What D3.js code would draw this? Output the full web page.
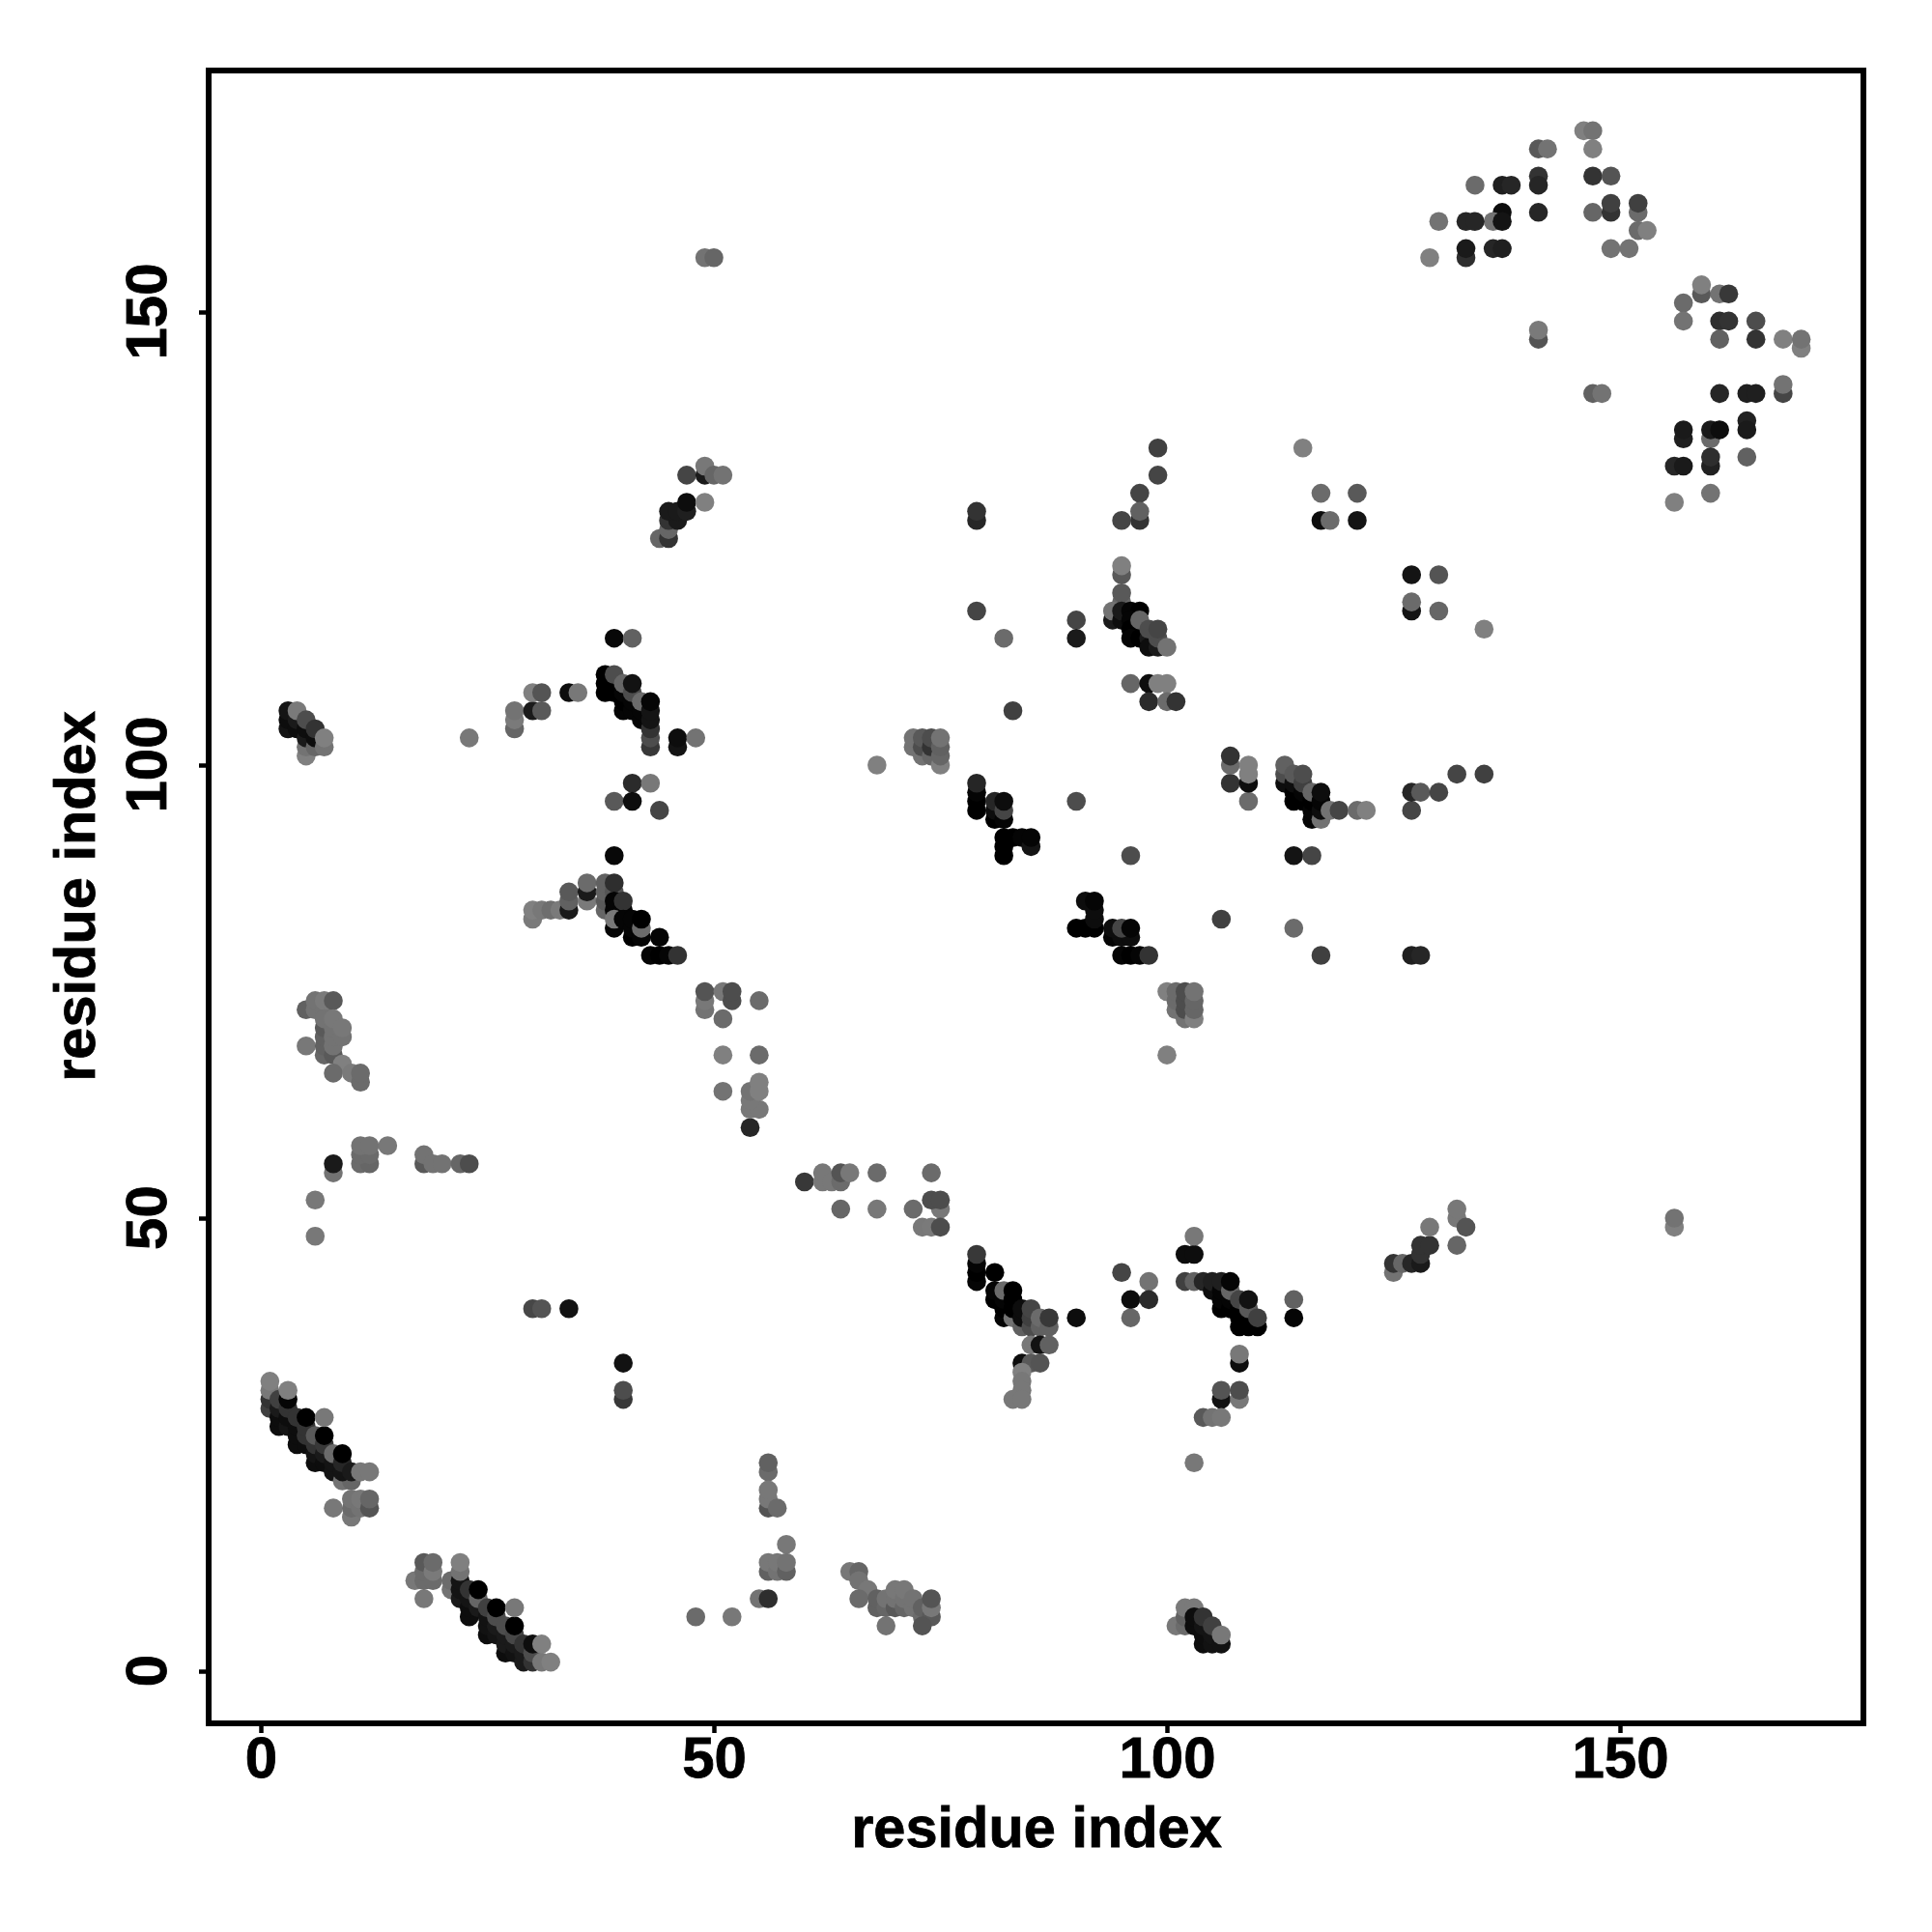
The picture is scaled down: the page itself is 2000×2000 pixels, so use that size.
<!DOCTYPE html>
<html><head><meta charset="utf-8">
<script src="https://d3js.org/d3.v7.min.js"></script>
<style>html,body{margin:0;padding:0;background:#fff}svg{display:block}</style>
</head><body><svg id="c" width="2000" height="2000"></svg>
<script>
// each entry: residue x, residue y, gray level
const topRight=[[146,170,.5],[147,170,.45],[147,168,.5],[141,168,.35],[142,168,.45],[141,165,.2],[141,164,.15],[147,165,.2],[149,165,.33],[134,164,.42],[137,164,.12],[138,164,.15],[141,161,.15],[137,161,.05],[136,160,.45],[137,160,.08],[130,160,.45],[133,160,.15],[134,160,.15],[147,161,.4],[149,161,.2],[149,162,.25],[152,161,.42],[152,162,.25],[152,159,.42],[153,159,.5],[149,157,.45],[151,157,.45],[133,156,.18],[133,157,.1],[129,156,.5],[136,157,.15],[137,157,.12],[159,152,.35],[159,153,.5],[161,152,.45],[162,152,.22],[157,151,.42],[157,149,.45],[161,149,.18],[162,149,.2],[165,149,.3],[161,147,.38],[165,147,.2],[168,147,.5],[170,146,.5],[170,147,.45],[141,147,.33],[141,148,.48],[147,141,.38],[148,141,.45],[161,141,.15],[164,141,.12],[165,141,.12],[168,141,.27],[168,142,.45],[157,136,.12],[157,137,.1],[160,136,.42],[160,137,.1],[161,137,.05],[164,138,.13],[164,137,.1],[156,133,.15],[157,133,.1],[160,133,.13],[160,134,.18],[164,134,.38],[160,130,.45],[156,129,.5]];
const middle=[[99,135,.25],[115,135,.5],[99,132,.27],[97,130,.27],[97,127,.2],[97,128,.38],[95,127,.27],[79,127,.15],[79,128,.2],[117,130,.42],[121,130,.35],[117,127,.05],[118,127,.42],[121,127,.08],[127,121,.08],[130,121,.33],[127,117,.08],[127,118,.42],[130,117,.4],[135,115,.5],[79,117,.27],[82,114,.42],[90,116,.27],[90,114,.1],[95,121,.35],[95,122,.5],[95,118,.4],[95,119,.35],[94,116,.1],[94,117,.45],[95,116,.05],[95,117,.1],[96,117,.02],[97,117,0],[96,116,.02],[96,115,0],[96,114,.02],[97,114,0],[98,114,.1],[97,116,.4],[98,113,.05],[99,113,.1],[99,114,.3],[98,115,.3],[99,115,.27],[100,113,.45],[96,109,.4],[98,109,.05],[99,109,.5],[100,109,.5],[98,107,.17],[100,107,.42],[101,107,.2],[83,106,.25]];
const midLower=[[68,100,.5],[72,102,.45],[72,103,.45],[73,101,.45],[73,102,.3],[73,103,.35],[74,101,.4],[74,102,.2],[74,103,.3],[75,100,.5],[75,101,.4],[75,102,.38],[75,103,.45],[79,95,0],[79,96,0],[79,97,.02],[79,98,.15],[81,94,0],[81,95,.05],[81,96,.15],[82,94,.02],[82,95,.27],[82,96,.05],[82,90,0],[82,91,0],[82,92,0],[83,92,0],[84,92,.02],[85,91,.08],[85,92,.02],[90,96,.3],[96,90,.3],[114,90,.08],[116,90,.27],[107,98,.2],[107,100,.42],[107,101,.2],[109,96,.42],[109,98,.05],[109,99,.5],[109,100,.5],[113,98,.05],[113,99,.3],[113,100,.38],[114,96,0],[114,97,0],[114,98,.05],[114,99,.35],[115,96,0],[115,97,.02],[115,98,.25],[115,99,.3],[116,94,.02],[116,95,.02],[116,96,0],[116,97,.4],[117,94,.45],[117,95,.05],[117,96,.02],[117,97,.05],[118,95,.45],[119,95,.27],[121,95,.42],[122,95,.5],[127,95,.27],[127,97,.15],[128,97,.35],[130,97,.27],[132,99,.27],[135,99,.25],[90,82,0],[91,82,0],[92,82,0],[92,83,.05],[92,84,.05],[91,85,.05],[92,85,.02],[94,81,.02],[95,81,.05],[96,81,.05],[94,82,.05],[95,82,.27],[96,82,.02],[95,79,.02],[96,79,0],[97,79,.02],[98,79,.2],[106,83,.25],[114,82,.42],[117,79,.25],[127,79,.12],[128,79,.15],[100,75,.5],[101,73,.45],[101,74,.42],[101,75,.42],[102,72,.45],[102,73,.3],[102,74,.3],[102,75,.3],[103,72,.5],[103,73,.4],[103,74,.4],[103,75,.45],[100,68,.5]];
const upperLeft=[[49,156,.45],[50,156,.4],[44,125,.4],[45,125,.2],[45,126,.4],[45,127,.2],[46,127,.1],[45,128,.1],[46,128,.1],[47,128,.12],[47,129,.05],[49,129,.5],[47,132,.27],[49,132,.1],[49,133,.47],[50,132,.4],[51,132,.45],[39,114,.03],[41,114,.38],[38,108,0],[38,109,0],[38,110,0],[39,108,0],[39,109,0],[39,110,.3],[40,106,.02],[40,107,0],[40,108,.02],[40,109,.4],[41,106,.02],[41,107,.02],[41,108,.3],[41,109,.07],[42,105,.02],[42,106,.02],[42,107,.42],[43,102,.22],[43,103,.3],[43,104,.2],[43,105,.08],[43,106,.08],[43,107,.02],[46,102,.08],[46,103,.05],[48,103,.45],[23,103,.47],[28,104,.4],[28,105,.48],[28,106,.45],[30,106,.1],[30,108,.5],[31,106,.35],[31,108,.33],[34,108,.05],[35,108,.47],[3,104,.08],[3,105,.05],[3,106,.08],[4,104,.05],[4,105,.1],[4,106,.48],[5,101,.5],[5,102,.45],[5,103,.1],[5,104,.05],[5,105,.3],[6,102,.4],[6,103,.05],[6,104,.2],[7,102,.45],[7,103,.5],[41,98,.17],[43,98,.47],[39,96,.35],[41,96,.05],[44,95,.27],[39,90,.03]];
const leftMiddle=[[30,83,.48],[30,84,.5],[31,84,.47],[32,84,.43],[33,84,.48],[34,84,.1],[34,85,.38],[34,86,.35],[36,85,.48],[36,86,.1],[36,87,.42],[38,84,.4],[38,85,.35],[38,86,.38],[38,87,.38],[39,86,.33],[39,87,.18],[39,84,.02],[39,85,.02],[40,84,.02],[40,85,.2],[39,82,.02],[39,83,.47],[40,83,.02],[41,81,0],[41,82,.02],[41,83,.02],[42,81,.02],[42,82,.42],[42,83,0],[44,81,.02],[43,79,.02],[44,79,0],[45,79,.02],[46,79,.2],[5,69,.47],[5,73,.38],[6,73,.45],[6,74,.45],[7,73,.45],[7,74,.48],[8,74,.35],[7,68,.4],[7,69,.38],[7,70,.38],[7,71,.35],[7,72,.45],[8,68,.35],[8,69,.45],[8,70,.45],[8,71,.45],[8,72,.47],[9,70,.45],[9,71,.47],[9,67,.5],[8,66,.42],[10,66,.48],[11,65,.42],[11,66,.42],[49,73,.45],[49,74,.47],[49,75,.33],[51,75,.47],[52,74,.3],[52,75,.3],[55,74,.42],[51,72,.42],[51,68,.5],[55,68,.42],[51,64,.45],[54,60,.15],[54,62,.47],[55,62,.47],[54,63,.47],[54,64,.45],[55,64,.5],[55,65,.5]];
const lowerLeft=[[30,40,.28],[31,40,.33],[34,40,.07],[40,34,.07],[40,30,.22],[40,31,.3],[1,29,.25],[1,30,.2],[1,31,.47],[1,32,.5],[2,27,.05],[2,28,.05],[2,29,.1],[2,30,.25],[3,27,.08],[3,28,.05],[3,29,.2],[3,30,.02],[3,31,.5],[4,25,.05],[4,26,.05],[4,27,.05],[4,28,.2],[5,25,.05],[5,26,.2],[5,27,.2],[5,28,0],[6,23,.05],[6,24,.08],[6,25,.2],[6,26,.35],[7,23,.05],[7,24,.1],[7,25,.22],[7,26,0],[7,28,.47],[8,22,.08],[8,23,.08],[8,24,.42],[9,21,.45],[10,21,.4],[9,22,.08],[9,23,.15],[9,24,0],[10,22,.1],[11,22,.47],[12,22,.47],[8,18,.47],[10,17,.47],[10,18,.42],[10,19,.45],[11,18,.45],[11,19,.47],[12,18,.33],[12,19,.4],[8,55,.45],[8,56,.1],[6,52,.47],[6,48,.47],[11,56,.42],[12,56,.4],[11,57,.42],[12,57,.42],[11,58,.45],[12,58,.45],[14,58,.47],[18,56,.35],[18,57,.45],[19,56,.45],[20,56,.45],[22,56,.4],[23,56,.3]];
const diagonalTwo=[[17,10,.47],[18,8,.47],[18,10,.42],[18,11,.42],[18,12,.35],[19,10,.42],[19,11,.48],[19,12,.42],[21,9,.45],[21,10,.42],[22,8,.1],[22,9,.08],[22,10,.08],[22,11,.45],[22,12,.5],[23,6,.05],[23,7,.05],[23,8,.08],[23,9,.2],[24,7,.1],[24,8,.4],[24,9,0],[25,4,.05],[25,5,.07],[25,6,.07],[25,7,.25],[26,4,.08],[26,5,.1],[26,6,.3],[26,7,0],[27,2,.05],[27,3,.1],[27,4,.1],[27,5,.3],[28,2,.07],[28,3,.1],[28,4,.28],[28,5,0],[28,7,.47],[29,1,.1],[29,2,.1],[29,3,.2],[30,1,.2],[30,2,.3],[30,3,.05],[31,1,.47],[31,3,.5],[32,1,.5]];
const lowerMiddle=[[48,6,.42],[52,6,.47],[55,8,.45],[56,8,.18],[56,22,.42],[56,23,.38],[56,18,.33],[56,19,.47],[56,20,.47],[57,18,.42],[58,14,.47],[56,11,.38],[56,12,.47],[57,11,.45],[57,12,.47],[58,11,.38],[58,12,.45],[60,54,.22],[62,54,.47],[62,55,.47],[63,54,.47],[64,54,.42],[64,55,.33],[65,55,.47],[68,55,.42],[74,55,.42],[64,51,.4],[68,51,.47],[72,51,.42],[75,51,.47],[74,52,.3],[75,52,.3],[73,49,.47],[74,49,.48],[75,49,.3],[65,11,.47],[66,11,.4],[66,10,.45],[67,9,.47],[66,8,.42],[68,7,.38],[68,8,.38],[69,7,.4],[69,8,.45],[70,7,.35],[70,8,.45],[70,9,.47],[71,7,.4],[71,8,.45],[71,9,.47],[72,7,.45],[72,8,.45],[73,6,.42],[73,7,.38],[74,6,.35],[74,7,.47],[74,8,.33],[73,5,.33],[69,5,.45]];
const lowerRight=[[79,43,.02],[79,44,0],[79,45,.02],[79,46,.22],[81,44,0],[81,41,0],[81,42,.02],[82,39,.02],[82,40,0],[82,41,.02],[82,42,.42],[83,39,.45],[83,40,0],[83,41,0],[83,42,0],[84,38,.38],[84,39,.05],[84,40,.05],[85,38,.3],[85,39,.25],[85,40,.27],[86,38,.38],[86,39,.42],[87,38,.38],[87,39,.22],[90,39,.05],[85,36,.47],[86,36,.07],[87,36,.38],[84,34,.05],[85,34,.35],[86,34,.33],[84,33,.5],[84,32,.47],[84,31,.47],[83,30,.47],[84,30,.47],[95,44,.27],[98,43,.45],[96,41,.05],[98,41,.17],[96,39,.4],[102,46,.05],[103,46,.05],[103,48,.47],[102,43,.25],[103,43,.38],[104,43,.15],[105,42,.05],[105,43,.12],[106,40,0],[106,41,.02],[106,42,.02],[106,43,.12],[107,40,0],[107,41,.02],[107,42,.4],[107,43,.02],[108,38,0],[108,39,0],[108,40,0],[108,41,.27],[109,38,0],[109,39,0],[109,40,.35],[109,41,.07],[110,38,0],[110,39,.25],[114,39,.02],[114,41,.38],[108,34,.05],[108,35,.47],[106,30,.07],[106,31,.33],[108,30,.47],[108,31,.3],[104,28,.35],[105,28,.45],[106,28,.47],[103,23,.47],[101,5,.47],[102,5,.42],[102,6,.38],[102,7,.48],[103,7,.48],[103,5,.05],[103,6,.05],[104,3,.05],[104,4,.05],[104,5,.08],[104,6,.2],[105,3,.07],[105,4,.08],[105,5,.25],[106,3,.07],[106,4,.47]];
const farRight=[[125,44,.45],[125,45,.2],[126,45,.4],[127,45,.15],[128,45,.1],[128,46,.2],[128,47,.2],[129,47,.2],[129,49,.47],[132,47,.4],[132,50,.47],[132,51,.47],[133,49,.33],[156,49,.5],[156,50,.45]];
const tickValues=[0,50,100,150];
const axisTitle="residue index";

const x=d3.scaleLinear().domain([0,150]).range([270,1677]);
const y=d3.scaleLinear().domain([0,150]).range([1730,323]);
const box={l:216,r:1929,t:73,b:1784};
const svg=d3.select("#c");
const font="'Liberation Sans',Arial,sans-serif";
const pts=[].concat(topRight,middle,midLower,upperLeft,leftMiddle,lowerLeft,diagonalTwo,lowerMiddle,lowerRight,farRight);
svg.append("g").selectAll("circle").data(pts).join("circle")
  .attr("cx",d=>x(d[0])).attr("cy",d=>y(d[1])).attr("r",9.8)
  .attr("fill",d=>d3.rgb(d[2]*255,d[2]*255,d[2]*255).formatHex());
svg.append("rect").attr("x",box.l).attr("y",box.t).attr("width",box.r-box.l).attr("height",box.b-box.t)
  .attr("fill","none").attr("stroke","#000").attr("stroke-width",6);
const gx=svg.append("g").attr("transform",`translate(0,${box.b})`)
  .call(d3.axisBottom(x).tickValues(tickValues).tickSize(10).tickSizeOuter(0).tickPadding(0));
gx.select(".domain").remove();
gx.selectAll("line").attr("stroke","#000").attr("stroke-width",4.5);
gx.selectAll("text").attr("font-family",font).attr("font-weight","bold").attr("font-size",60).attr("fill","#000")
  .attr("stroke","#000").attr("stroke-width",.8)
  .attr("text-anchor","middle").attr("dy",0).attr("y",56);
const gy=svg.append("g").attr("transform",`translate(${box.l},0)`)
  .call(d3.axisLeft(y).tickValues(tickValues).tickSize(10).tickSizeOuter(0).tickPadding(0));
gy.select(".domain").remove();
gy.selectAll("line").attr("stroke","#000").attr("stroke-width",4.5);
gy.selectAll("text").attr("font-family",font).attr("font-weight","bold").attr("font-size",60).attr("fill","#000")
  .attr("stroke","#000").attr("stroke-width",.8)
  .attr("text-anchor","middle").attr("dy",0).attr("x",0).attr("y",0)
  .attr("transform",d=>`translate(-44,-1) rotate(-90)`);
svg.append("text").text(axisTitle).attr("x",1073).attr("y",1912).attr("text-anchor","middle")
  .attr("font-family",font).attr("font-weight","bold").attr("font-size",59.5).attr("stroke","#000").attr("stroke-width",.8);
svg.append("text").text(axisTitle).attr("transform","translate(98,928) rotate(-90)").attr("text-anchor","middle")
  .attr("font-family",font).attr("font-weight","bold").attr("font-size",59.5).attr("stroke","#000").attr("stroke-width",.8);
</script></body></html>
